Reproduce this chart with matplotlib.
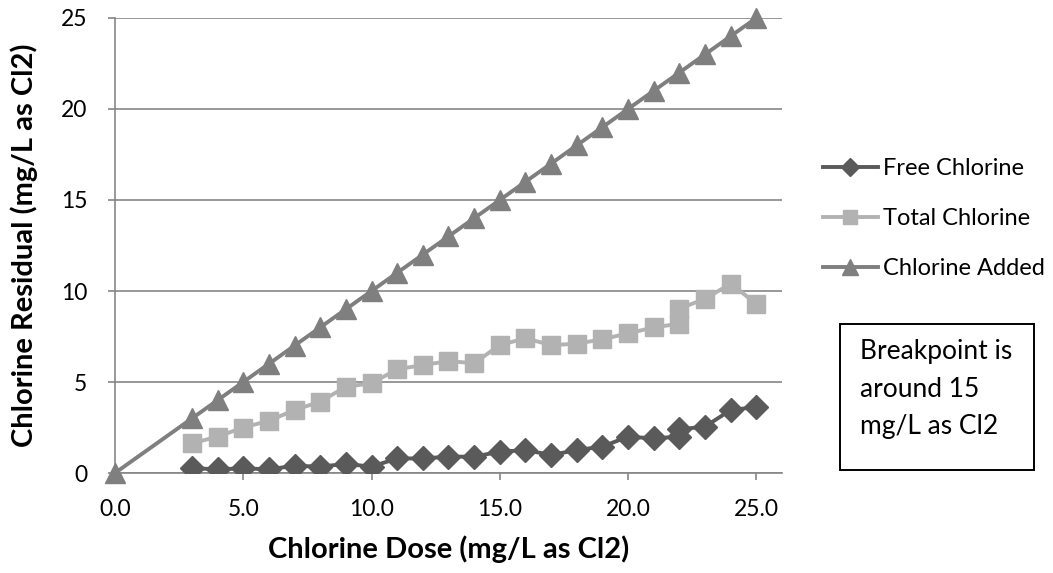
import matplotlib
matplotlib.use("Agg")
import matplotlib.pyplot as plt
from matplotlib.patches import Rectangle

plt.rcParams['font.family'] = ['Lato', 'DejaVu Sans']

# chlorine dose (mg/L as Cl2) for each sample
dose = [3, 4, 5, 6, 7, 8, 9, 10, 11, 12, 13, 14, 15, 16, 17, 18, 19, 20, 21, 22, 22, 23, 24, 25]
free_cl = [0.27, 0.2, 0.26, 0.2, 0.4, 0.35, 0.5, 0.35, 0.8, 0.8, 0.9, 0.9, 1.17, 1.26, 0.99,
           1.26, 1.45, 2.0, 1.9, 2.0, 2.4, 2.55, 3.46, 3.62]
total_cl = [1.63, 2.0, 2.5, 2.87, 3.46, 3.92, 4.74, 4.93, 5.7, 5.93, 6.15, 6.03, 7.03, 7.4, 7.03,
            7.1, 7.35, 7.67, 8.0, 8.2, 9.03, 9.57, 10.4, 9.3]
added_x = [0, 3, 4, 5, 6, 7, 8, 9, 10, 11, 12, 13, 14, 15, 16, 17, 18, 19, 20, 21, 22, 23, 24, 25]
added_y = [0, 3, 4, 5, 6, 7, 8, 9, 10, 11, 12, 13, 14, 15, 16, 17, 18, 19, 20, 21, 22, 23, 24, 25]

x_ticks = [0, 5, 10, 15, 20, 25]
y_ticks = [0, 5, 10, 15, 20, 25]

fig = plt.figure(figsize=(10.53, 5.73), dpi=100)
ax = fig.add_axes([0.1092, 0.1745, 0.6334, 0.7941])

grid_c = '#868686'
ax.plot(dose, free_cl, color='#5a5a5a', lw=2.8, marker='D', ms=12, label='Free Chlorine', zorder=3)
ax.plot(dose, total_cl, color='#b2b2b2', lw=2.8, marker='s', ms=13, label='Total Chlorine', zorder=3)
ax.plot(added_x, added_y, color='#7f7f7f', lw=2.8, marker='^', ms=14, label='Chlorine Added', zorder=3,
        clip_on=False)

ax.set_xlim(0, 26)
ax.set_ylim(0, 25)
ax.set_xticks(x_ticks)
ax.set_xticklabels(['%.1f' % v for v in x_ticks])
ax.set_yticks(y_ticks)
ax.yaxis.grid(True, color=grid_c, lw=1.2)
ax.set_axisbelow(True)
for s in ['top', 'right']:
    ax.spines[s].set_visible(False)
for s in ['left', 'bottom']:
    ax.spines[s].set_color(grid_c)
    ax.spines[s].set_linewidth(1.2)
ax.tick_params(axis='both', colors=grid_c, length=5, width=1.2, labelsize=16.5, labelcolor='black')
ax.tick_params(axis='x', pad=14)
ax.tick_params(axis='y', pad=15)

ax.set_xlabel('Chlorine Dose (mg/L as Cl2)', fontsize=21, fontweight='bold', labelpad=11)
ax.set_ylabel('Chlorine Residual (mg/L as Cl2)', fontsize=21, fontweight='bold', labelpad=16)

fig.legend(loc='upper left', bbox_to_anchor=(0.770, 0.745), frameon=False, fontsize=17,
           borderpad=0, handlelength=2.35, handletextpad=0.2, labelspacing=1.23, markerscale=0.8)

# note box about the breakpoint
fig.add_artist(Rectangle((0.7977, 0.1797), 0.1842, 0.2548, transform=fig.transFigure,
                         fill=False, edgecolor='black', lw=1.4))
fig.text(0.8167, 0.408, 'Breakpoint is\naround 15\nmg/L as Cl2', fontsize=19, va='top', ha='left',
         linespacing=1.62)

fig.savefig('out.png', dpi=100)
